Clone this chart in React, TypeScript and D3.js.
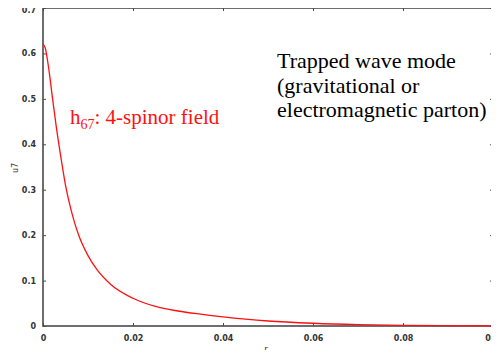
import React, { useEffect, useRef } from 'react';
import * as d3 from 'd3';

// values
const rValues = [0, 0.0005, 0.001, 0.0015, 0.002, 0.003, 0.004, 0.005, 0.006, 0.007, 0.008, 0.01, 0.012, 0.015, 0.02, 0.025, 0.03, 0.035, 0.04, 0.045, 0.05, 0.06, 0.07, 0.08, 0.09, 0.1];
const uValues = [0.62, 0.612, 0.585, 0.55, 0.51, 0.435, 0.37, 0.31, 0.265, 0.228, 0.198, 0.155, 0.124, 0.092, 0.061, 0.043, 0.033, 0.026, 0.02, 0.015, 0.011, 0.006, 0.003, 0.0015, 0.0008, 0.0004];
const xTicks = [0, 0.02, 0.04, 0.06, 0.08, 0.1];
const yTicks = [0, 0.1, 0.2, 0.3, 0.4, 0.5, 0.6, 0.7];
const noteLines = ['Trapped wave mode', '(gravitational or', 'electromagnetic parton)'];

const App = () => {
  const svgRef = useRef<SVGSVGElement>(null);

  useEffect(() => {
    const W = 499, H = 358;
    const margin = { top: 8, right: 6, bottom: 32, left: 43 };
    const width = W - margin.left - margin.right;
    const height = H - margin.top - margin.bottom;

    d3.select(svgRef.current).selectAll('*').remove();
    const root = d3.select(svgRef.current).attr('width', W).attr('height', H);
    root.append('rect').attr('width', W).attr('height', H).attr('fill', '#fff');

    const svg = root.append('g').attr('transform', `translate(${margin.left},${margin.top})`);

    const x = d3.scaleLinear().domain([0, 0.1]).range([0, width]);
    const y = d3.scaleLinear().domain([0, 0.7]).range([height, 0]);

    const fmt = (d: number) => (d === 0 ? '0' : String(+d.toFixed(2)));
    const axisColor = '#4a4a4a';
    const tickFont = (g: any) =>
      g.selectAll('text')
        .attr('font-family', 'DejaVu Sans, sans-serif')
        .attr('font-size', 8)
        .attr('font-weight', 'bold')
        .attr('fill', '#333');

    const xAxis = svg.append('g')
      .attr('transform', `translate(0,${height})`)
      .call(d3.axisBottom(x).tickValues(xTicks).tickFormat(fmt as any).tickSizeInner(-3).tickSizeOuter(0).tickPadding(9));
    const yAxis = svg.append('g')
      .call(d3.axisLeft(y).tickValues(yTicks).tickFormat(fmt as any).tickSizeInner(-3).tickSizeOuter(0).tickPadding(7));
    const xTop = svg.append('g')
      .call(d3.axisTop(x).tickValues(xTicks).tickFormat(() => '').tickSizeInner(-3).tickSizeOuter(0));
    const yRight = svg.append('g')
      .attr('transform', `translate(${width},0)`)
      .call(d3.axisRight(y).tickValues(yTicks).tickFormat(() => '').tickSizeInner(-3).tickSizeOuter(0));

    [xAxis, yAxis, xTop, yRight].forEach(g => {
      g.select('.domain').remove();
      g.selectAll('line').attr('stroke', axisColor);
      tickFont(g);
    });
    // last x label sits against the right edge of the picture
    xAxis.selectAll('.tick:last-of-type text').attr('text-anchor', 'end').attr('dx', 6);
    yAxis.selectAll('.tick:last-of-type text').attr('dy', '0.6em');

    svg.append('rect')
      .attr('width', width).attr('height', height)
      .attr('fill', 'none').attr('stroke', axisColor).attr('stroke-width', 1.6);

    const line = d3.line<number>()
      .x((_, i) => x(rValues[i]))
      .y(d => y(d))
      .curve(d3.curveMonotoneX);

    svg.append('path')
      .datum(uValues)
      .attr('d', line)
      .attr('fill', 'none')
      .attr('stroke', '#ff1010')
      .attr('stroke-width', 1.3);

    // axis titles
    root.append('text')
      .attr('x', 266).attr('y', 352)
      .attr('text-anchor', 'middle')
      .attr('font-family', 'DejaVu Sans, sans-serif')
      .attr('font-size', 9)
      .attr('fill', '#333')
      .text('r');
    root.append('text')
      .attr('transform', 'translate(18,168) rotate(-90)')
      .attr('text-anchor', 'middle')
      .attr('font-family', 'DejaVu Sans, sans-serif')
      .attr('font-size', 8)
      .attr('fill', '#333')
      .text('u7');

    // annotations
    const serif = 'Liberation Serif, Times New Roman, serif';
    const h = root.append('text')
      .attr('x', 70).attr('y', 124)
      .attr('font-family', serif)
      .attr('font-size', 21)
      .attr('fill', '#ff1010');
    h.append('tspan').text('h');
    h.append('tspan').attr('dy', 5).attr('font-size', 14).text('67');
    h.append('tspan').attr('dy', -5).text(': 4-spinor field');

    root.append('g')
      .selectAll('text')
      .data(noteLines)
      .enter()
      .append('text')
      .attr('x', 277)
      .attr('y', (_, i) => 68 + i * 24.5)
      .attr('font-family', serif)
      .attr('font-size', 22)
      .attr('fill', '#000')
      .text(d => d);
  }, []);

  return (
    <div style={{ margin: -8 }}>
      <svg ref={svgRef} style={{ display: 'block' }}></svg>
    </div>
  );
};

export default App;
